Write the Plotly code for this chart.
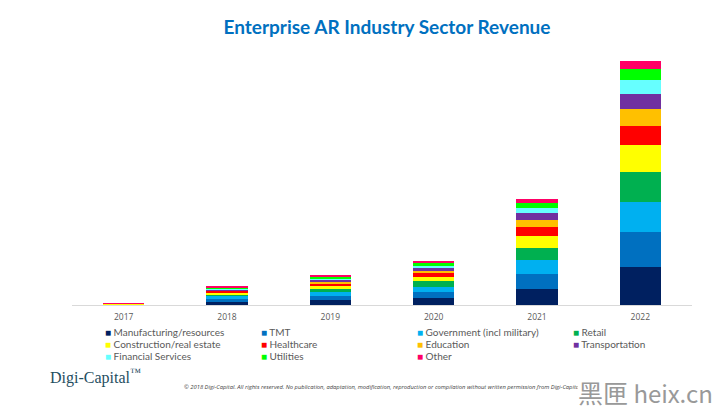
import plotly.graph_objects as go

years = ["2017", "2018", "2019", "2020", "2021", "2022"]

manufacturing = [0.3, 3.0, 4.7, 6.7, 16.0, 37.7]
tmt = [0.25, 3.0, 4.0, 6.0, 15.3, 35.0]
government = [0.2, 3.0, 4.0, 5.7, 13.3, 30.3]
retail = [0.2, 2.0, 3.0, 5.3, 12.7, 30.3]
construction = [0.15, 2.0, 3.0, 4.3, 11.7, 26.7]
healthcare = [0.12, 1.3, 3.0, 3.7, 9.0, 19.7]
education = [0.1, 0.7, 2.0, 2.7, 6.7, 16.3]
transportation = [0.1, 0.7, 1.7, 3.3, 7.0, 15.3]
financial = [0.08, 1.0, 1.3, 1.7, 5.7, 14.0]
utilities = [0.08, 1.3, 1.7, 2.7, 5.3, 11.0]
other = [0.05, 0.7, 1.3, 1.7, 3.3, 8.0]

names = ["Manufacturing/resources", "TMT", "Government (incl military)", "Retail",
         "Construction/real estate", "Healthcare", "Education", "Transportation",
         "Financial Services", "Utilities", "Other"]
series = [manufacturing, tmt, government, retail, construction, healthcare,
          education, transportation, financial, utilities, other]
colors = ["#002060", "#0070C0", "#00B0F0", "#00B050", "#FFFF00", "#FF0000",
          "#FFC000", "#7030A0", "#66FFFF", "#00FF00", "#FF0066"]

footer = ("© 2018 Digi-Capital. All rights reserved. No publication, adaptation, modification, "
          "reproduction or compilation without written permission from Digi-Capital")

W, H = 721, 416
L, R, T, B = 72, 29, 52, 111

fig = go.Figure()
for name, vals, col in zip(names, series, colors):
    fig.add_trace(go.Bar(x=years, y=vals, name=name, marker_color=col,
                         marker_line_width=0, showlegend=False))


def note(px, py, text, size, color, family, anchor="left", bg=None):
    # page pixels to paper coordinates of the plot area
    fig.add_annotation(x=(px - L) / (W - L - R), y=1 - (py - T) / (H - T - B),
                       xref="paper", yref="paper", text=text, showarrow=False,
                       xanchor=anchor, yanchor="middle", borderpad=0, bgcolor=bg,
                       font=dict(size=size, color=color, family=family))


# legend in four columns, as on the slide
for i, (name, col) in enumerate(zip(names, colors)):
    label = f'<span style="color:{col}">■</span> {name}'
    note(104 + 156 * (i % 4), 332 + 12 * (i // 4), label, 10, "#595959", "Lato")

note(49, 376, "Digi-Capital<sup>™</sup>", 16, "#1F4E5F", "Liberation Serif")
note(183, 387, f"<i>{footer}</i>", 5.8, "#404040", "Open Sans")
note(645, 392, '<span style="font-size:25px">黑匣</span> heix.cn', 24, "#999999",
     "Noto Sans CJK SC, Noto Sans", anchor="center", bg="white")

fig.update_layout(
    barmode="stack",
    bargap=0.6,
    width=W,
    height=H,
    margin=dict(l=L, r=R, t=T, b=B, autoexpand=False),
    paper_bgcolor="white",
    plot_bgcolor="white",
    title=dict(text="<b>Enterprise AR Industry Sector Revenue</b>", x=387 / W, xanchor="center",
               y=1 - 27 / H, yanchor="middle",
               font=dict(size=19, color="#0070C0", family="Lato")),
)
fig.update_xaxes(showline=True, linecolor="#D9D9D9", linewidth=1, ticks="", showgrid=False,
                 ticklabelstandoff=4,
                 tickfont=dict(size=8.5, color="#595959", family="Open Sans"))
fig.update_yaxes(visible=False, range=[0, 253.5], showgrid=False)

fig.write_html("out.html", config={"displayModeBar": False},
               post_script="document.body.style.margin = '0';")
